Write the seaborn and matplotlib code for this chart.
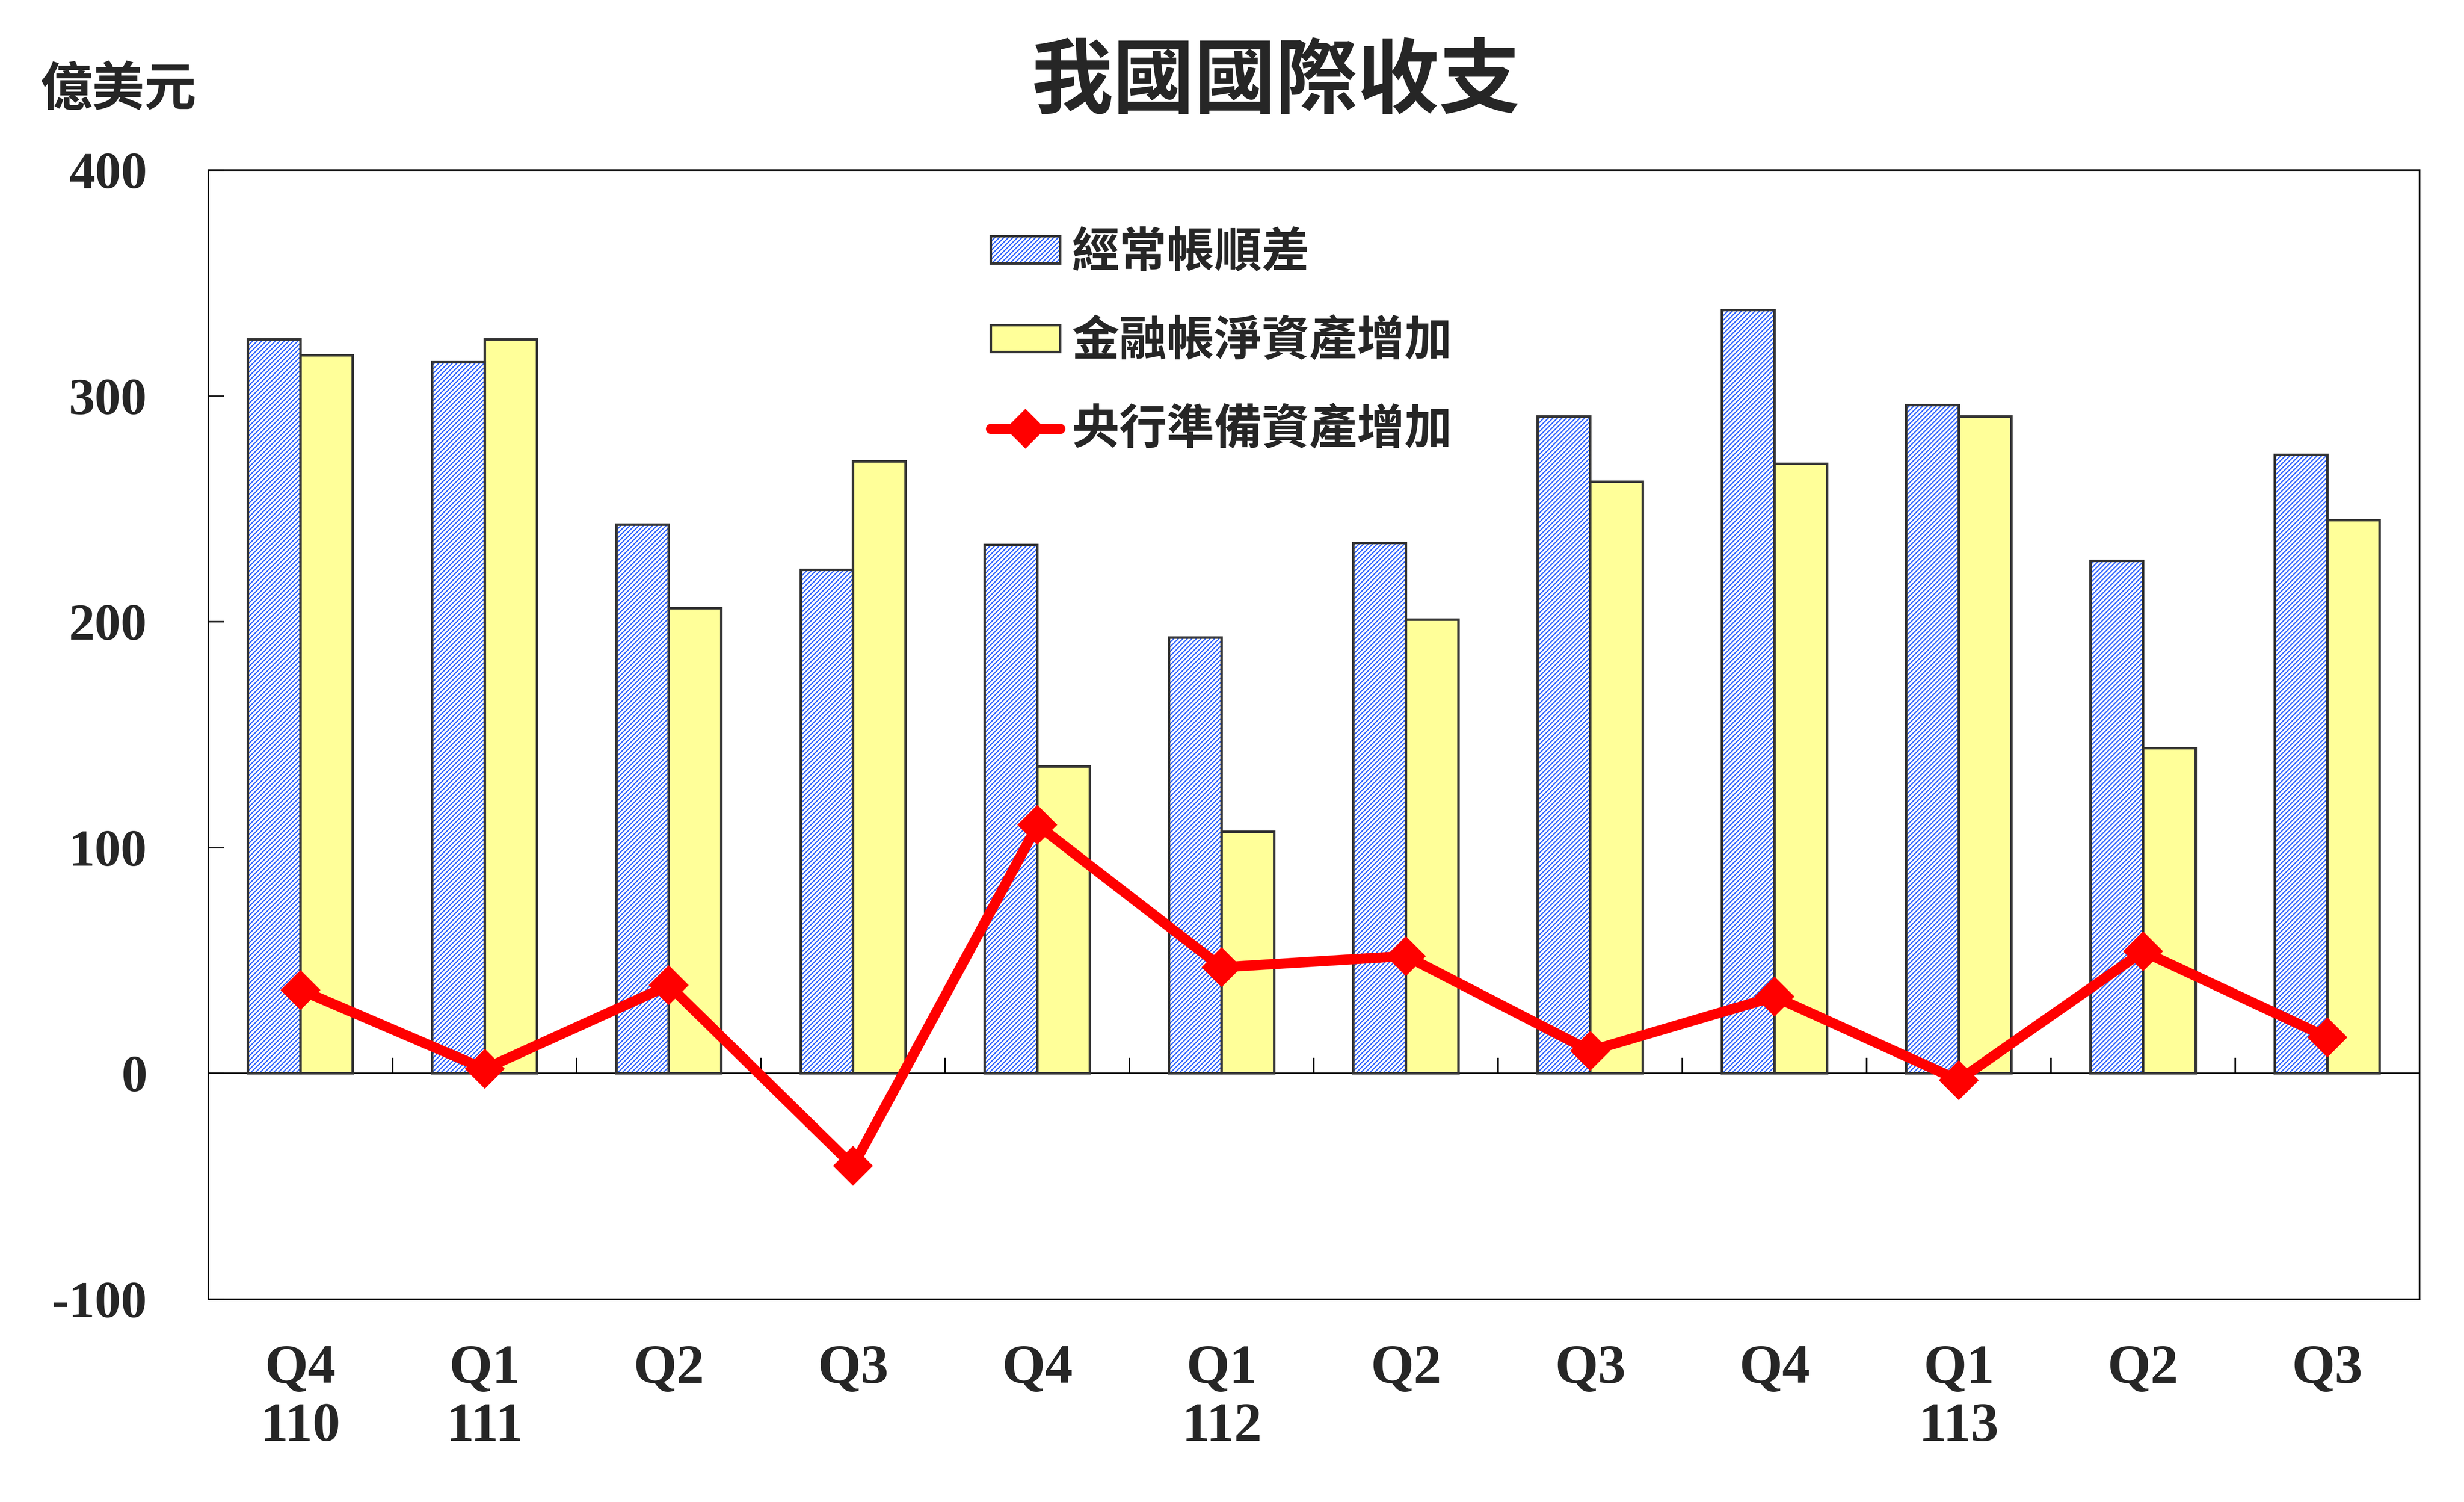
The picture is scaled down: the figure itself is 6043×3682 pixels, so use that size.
import numpy as np
import pandas as pd
import matplotlib
matplotlib.use("Agg")
import matplotlib.pyplot as plt
from matplotlib.patches import Patch, Rectangle
from matplotlib.lines import Line2D
import seaborn as sns

# ---- data (億美元) ----
periods = ['110Q4', '111Q1', '111Q2', '111Q3', '111Q4', '112Q1',
           '112Q2', '112Q3', '112Q4', '113Q1', '113Q2', '113Q3']
tick_labels = ['Q4\n110', 'Q1\n111', 'Q2', 'Q3', 'Q4', 'Q1\n112',
               'Q2', 'Q3', 'Q4', 'Q1\n113', 'Q2', 'Q3']
series_names = ['經常帳順差', '金融帳淨資產增加', '央行準備資產增加']
current_surplus = [325, 315, 243, 223, 234, 193, 235, 291, 338, 296, 227, 274]
financial_net = [318, 325, 206, 271, 136, 107, 201, 262, 270, 291, 144, 245]
reserve_incr = [37, 2, 39, -41, 110, 47, 52, 10, 34, -3, 54, 16]

BLUE = '#3366FF'
YELLOW = '#FFFF99'
EDGE = '#333333'
HATCH = '////////////'

sns.set_theme(style="white")
plt.rcParams['font.family'] = ['Liberation Serif', 'Noto Sans CJK TC']
plt.rcParams['axes.unicode_minus'] = False
plt.rcParams['hatch.linewidth'] = 0.55
plt.rcParams['hatch.color'] = BLUE
CJK = ['Noto Sans CJK TC', 'DejaVu Sans']

df = pd.DataFrame({'period': periods,
                   series_names[0]: current_surplus,
                   series_names[1]: financial_net})
bars = df.melt(id_vars='period', var_name='series', value_name='value')

fig = plt.figure(figsize=(6043 / 400, 3682 / 400), dpi=400)
ax = fig.add_axes([0.0845, 0.135, 0.8974, 0.7517])

sns.barplot(data=bars, x='period', y='value', hue='series', order=periods,
            hue_order=series_names[:2], palette=['white', YELLOW],
            width=0.57, edgecolor=EDGE, linewidth=1.1, saturation=1,
            legend=False, ax=ax, zorder=3)

# hatch the current-account bars in blue, keep dark outline
for p in ax.containers[0]:
    p.set_hatch(HATCH)
    p.set_edgecolor(BLUE)
    p.set_linewidth(0)
    ax.add_patch(Rectangle(p.get_xy(), p.get_width(), p.get_height(),
                           fill=False, edgecolor=EDGE, linewidth=1.1, zorder=3.5))

sns.lineplot(x=np.arange(len(periods)), y=reserve_incr, color='red',
             linewidth=4.5, marker='D', markersize=12.5, markeredgewidth=0,
             legend=False, ax=ax, zorder=5)

# zero line with small upward ticks between groups
ax.axhline(0, color='black', linewidth=0.7, zorder=2)
ax.vlines(np.arange(len(periods) - 1) + 0.5, 0, 7, color='black', linewidth=0.7, zorder=2)

ax.set_xlim(-0.5, len(periods) - 0.5)
ax.set_ylim(-100, 400)
ax.set_yticks([-100, 0, 100, 200, 300, 400])
ax.set_xticks(np.arange(len(periods)))
ax.set_xticklabels(tick_labels, fontsize=24.5, fontweight='bold')
for lab in ax.get_yticklabels():
    lab.set_fontweight('bold')
ax.tick_params(axis='y', direction='in', length=7, width=0.7, pad=27,
               labelsize=23, left=True)
ax.tick_params(axis='x', length=0, pad=20)
ax.set_xlabel('')
ax.set_ylabel('')
for s in ax.spines.values():
    s.set_color('black')
    s.set_linewidth(0.7)

hatch_handle = (Patch(facecolor='white', edgecolor=BLUE, linewidth=0, hatch=HATCH),
                Patch(fill=False, edgecolor=EDGE, linewidth=1.1))
handles = [hatch_handle,
           Patch(facecolor=YELLOW, edgecolor=EDGE, linewidth=1.1),
           Line2D([], [], color='red', linewidth=4.5, marker='D', markersize=12.5,
                  markeredgewidth=0)]
ax.legend(handles, series_names, loc='upper left', bbox_to_anchor=(0.354, 0.948),
          frameon=False, borderpad=0, borderaxespad=0, handlelength=1.45,
          handleheight=0.5, handletextpad=0.25, labelspacing=0.85,
          prop={'family': CJK, 'weight': 'bold', 'size': 21})

fig.text(0.518, 0.945, '我國國際收支', ha='center', va='center', fontsize=36,
         fontweight='bold', family=CJK)
fig.text(0.048, 0.94, '億美元', ha='center', va='center', fontsize=23,
         fontweight='bold', family=CJK)

fig.savefig('out.png', dpi=400)
